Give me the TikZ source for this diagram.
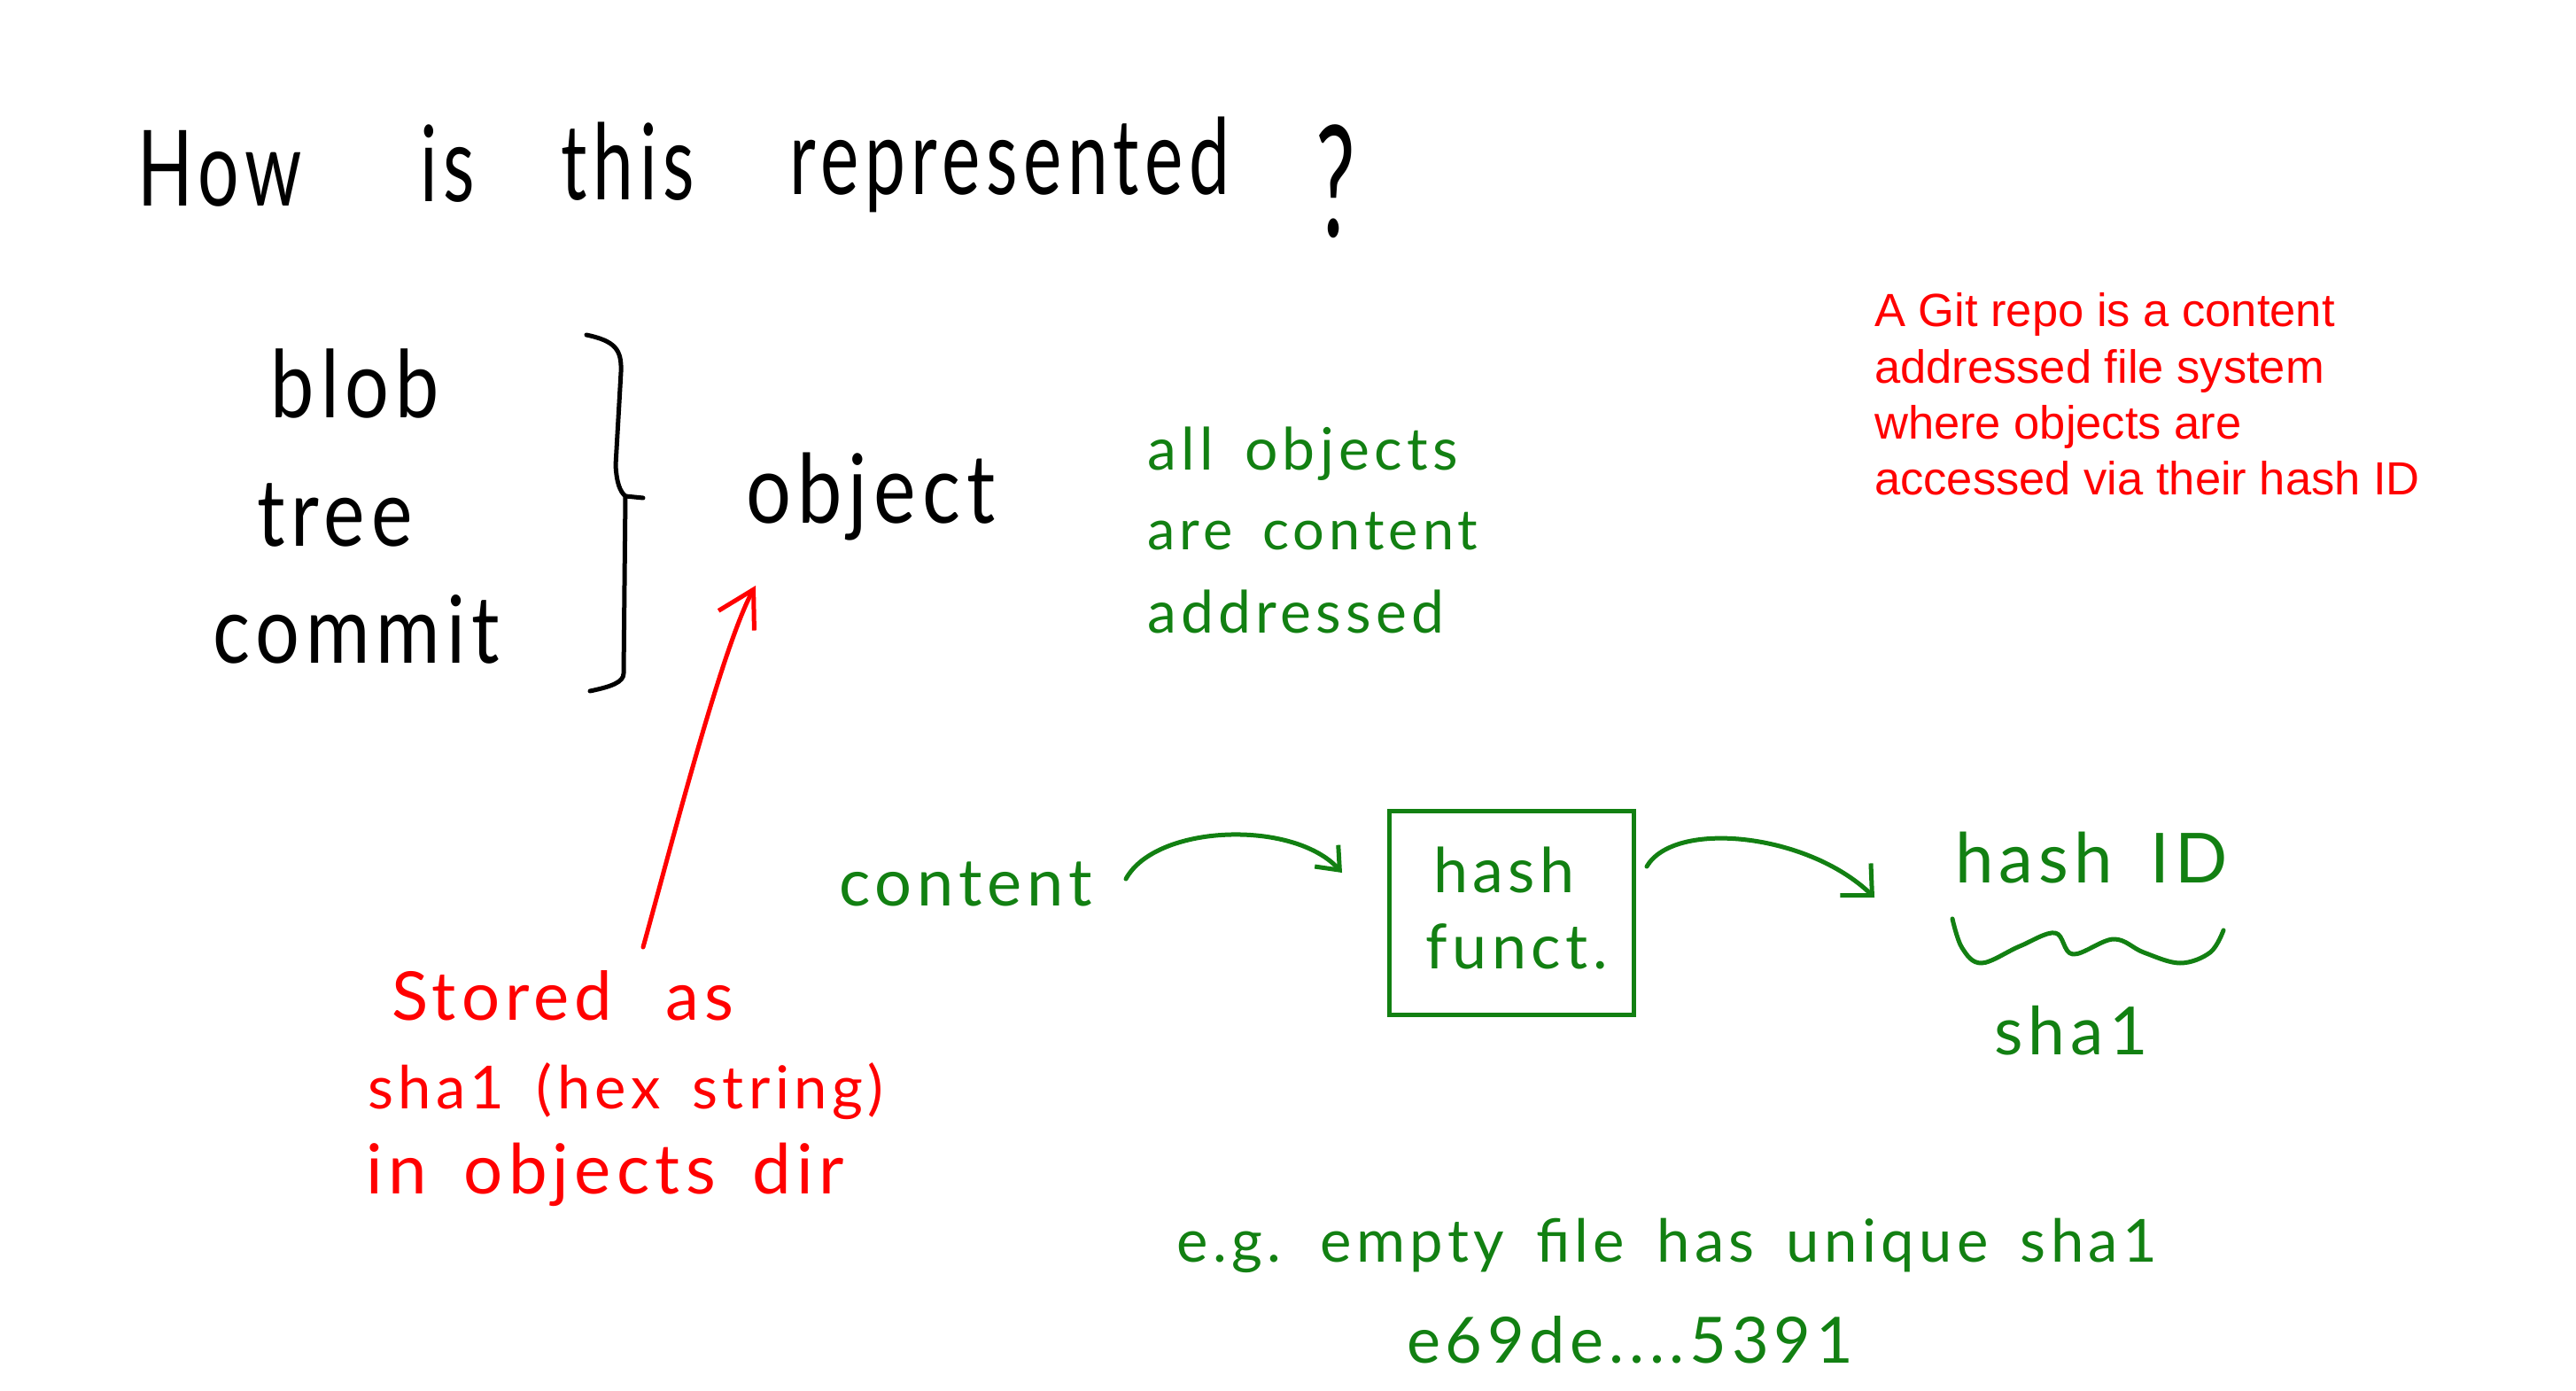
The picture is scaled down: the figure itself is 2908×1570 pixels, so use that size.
\documentclass[tikz,border=0pt]{standalone}
\usepackage{fontspec}
\setmainfont{Liberation Sans}
\newfontfamily\hand[LetterSpace=8,WordSpace=1.6]{Lato}
\usetikzlibrary{arrows.meta,calc}
\definecolor{hgreen}{RGB}{18,128,18}
\definecolor{hred}{RGB}{255,0,0}
\tikzset{
  hw/.style={inner sep=0pt, anchor=base, font={\hand\fontsize{#1}{#1}\selectfont}},
  blk/.style={text=black},
  grn/.style={text=hgreen},
  rd/.style={text=hred},
  typed/.style={inner sep=0pt, anchor=base west, text=hred, font={\fontsize{52.5pt}{63pt}\selectfont}},
  stroke/.style={line width=5pt, line cap=round, line join=round},
  gline/.style={stroke, draw=hgreen},
  bline/.style={stroke, draw=black},
  rarrow/.style={stroke, draw=hred, -{Straight Barb[length=40pt,width=46pt]}},
  garrowA/.style={gline, -{Straight Barb[length=22pt,width=36pt]}},
  garrowB/.style={gline, -{Straight Barb[length=26pt,width=50pt]}},
  hashbox/.style={draw=hgreen, line width=5pt, minimum width=276pt, minimum height=230pt, inner sep=0pt}
}
\newcommand{\tall}[2]{\scalebox{1}[#1]{#2}}
\begin{document}
\begin{tikzpicture}[x=1pt,y=-1pt]
\useasboundingbox[fill=white] (0,0) rectangle (2908,1570);

% title
\node[hw=82pt, blk] (tHow) at (248,233) {\tall{1.45}{How}};
\node[hw=82pt, blk] (tIs) at (505,228) {\tall{1.45}{is}};
\node[hw=82pt, blk] (tThis) at (709,226) {\tall{1.45}{this}};
\node[hw=82pt, blk] (tRep) at (1140,220) {\tall{1.45}{represented}};
\node[hw=100pt, blk] (tQ) at (1508,268) {\tall{1.75}{?}};

% object kinds
\node[hw=88pt, blk] (blob) at (401,471) {\tall{1.2}{blob}};
\node[hw=88pt, blk] (tree) at (378,616) {\tall{1.2}{tree}};
\node[hw=88pt, blk] (commit) at (402,748) {\tall{1.2}{commit}};
\node[hw=90pt, blk] (object) at (983,590) {\tall{1.2}{object}};

% brace
\draw[bline] (662,378) .. controls (695,385) and (702,395) .. (701,420)
  -- (695,525) .. controls (696,545) and (700,555) .. (706,560)
  -- (704,760) .. controls (704,770) and (690,775) .. (666,780);
\draw[bline] (706,560) -- (726,562);

% green note
\node[hw=66pt, grn, anchor=base west] (allobj) at (1295,530) {all objects};
\node[hw=63pt, grn, anchor=base west] (arecont) at (1295,620) {are content};
\node[hw=66pt, grn, anchor=base west] (addr) at (1295,714) {addressed};

% typed note
\node[typed] (git1) at (2116,368) {A Git repo is a content};
\node[typed] (git2) at (2116,432) {addressed file system};
\node[typed] (git3) at (2116,495) {where objects are};
\node[typed] (git4) at (2116,558) {accessed via their hash ID};

% red note and arrow
\node[hw=76pt, rd, anchor=base west] (stored) at (442,1151) {Stored\hspace{20pt} as};
\node[hw=67pt, rd, anchor=base west] (shahex) at (415,1251) {sha1 (hex string)};
\node[hw=78pt, rd, anchor=base west] (indir) at (413,1347) {in objects dir};
\coordinate (rtail) at (726,1069);
\coordinate (rtip) at (853,661);
\draw[rarrow] (rtail) .. controls (755,965) and (815,730) .. (rtip);

% hash pipeline
\node[hw=74pt, grn] (content) at (1090,1022) {content};
\node[hashbox] (hbox) at (1706,1030) {};
\node[hw=70pt, grn] (hash) at (1698,1007) {hash};
\node[hw=70pt, grn] (funct) at (1712,1093) {funct.};
\node[hw=78pt, grn] (hashid) at (2361,996) {hash ID};
\node[hw=75pt, grn] (sha) at (2338,1190) {sha1};
\coordinate (a1s) at (1271,992);
\coordinate (a1e) at (1515,985);
\coordinate (a2s) at (1859,978);
\coordinate (a2e) at (2116,1013);
\draw[garrowA] (a1s) .. controls (1305,930) and (1460,925) .. (a1e);
\draw[garrowB] (a2s) .. controls (1890,925) and (2040,940) .. (a2e);
\draw[gline] plot[smooth, tension=0.6] coordinates {(2204,1037) (2215,1070) (2237,1087) (2280,1068) (2320,1053) (2340,1077) (2386,1060) (2420,1075) (2461,1087) (2495,1075) (2510,1050)};

% example
\node[hw=67pt, grn] (eg) at (1882,1424) {e.g. empty file has unique sha1};
\node[hw=72pt, grn] (e69) at (1840,1538) {e69de....5391};
\end{tikzpicture}
\end{document}
